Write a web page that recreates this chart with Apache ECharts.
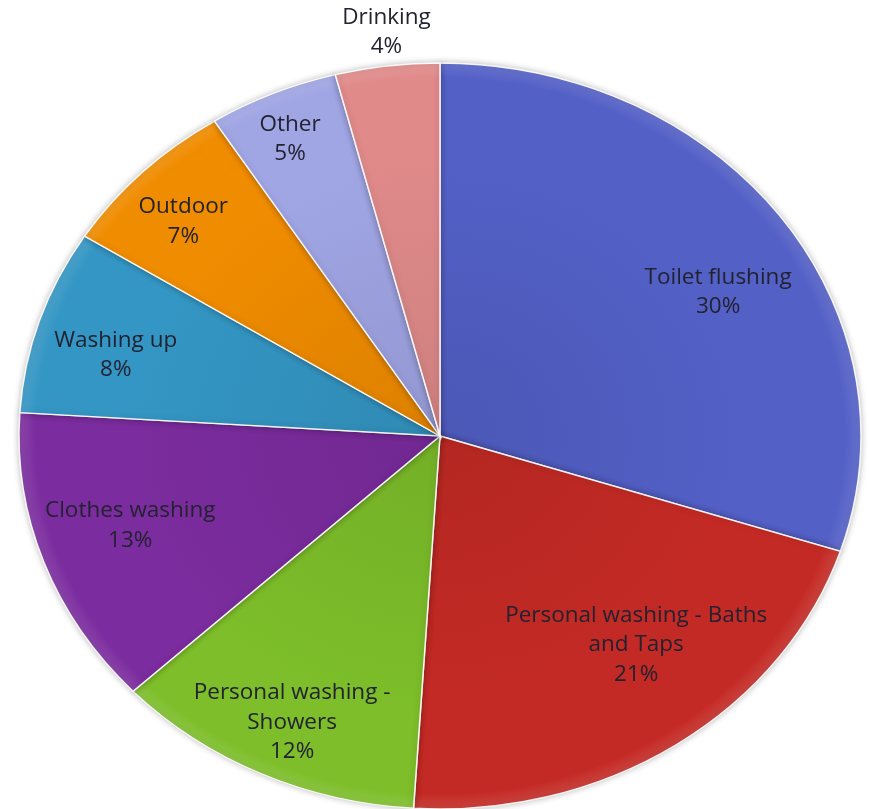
<!DOCTYPE html>
<html>
<head>
<meta charset="utf-8">
<script src="https://cdn.jsdelivr.net/npm/echarts@6/dist/echarts.min.js"></script>
<style>
  html, body { margin: 0; padding: 0; background: #ffffff; }
  #chart { width: 869px; height: 809px; }
</style>
</head>
<body>
<div id="chart"></div>
<script>
// ---- data ----
const categories = [
  'Toilet flushing',
  'Personal washing - Baths\nand Taps',
  'Personal washing -\nShowers',
  'Clothes washing',
  'Washing up',
  'Outdoor',
  'Other',
  'Drinking'
];
const values = [30, 21, 12, 13, 8, 7, 5, 4];

// ---- style / layout ----
const colors = ['#5360C6', '#C42A25', '#7DBE2A', '#7B2C9E', '#3496C4', '#F08C00', '#A0A5E4', '#E08A8A'];
// [radial fraction, angle shift in degrees] for each label
const labelPlacement = [[0.765, 5.7], [0.728, -5.6], [0.844, -0.6], [0.774, 1.7], [0.80, -2.3], [0.838, -1.7], [0.872, -0.7], [1.09, 0.5]];
const CX = 440, CY = 436, RX = 421, RY = 373;

function shade(hex, k) {
  const n = parseInt(hex.slice(1), 16);
  let r = (n >> 16) & 255, g = (n >> 8) & 255, b = n & 255;
  if (k < 0) { r *= (1 + k); g *= (1 + k); b *= (1 + k); }
  else { r += (255 - r) * k; g += (255 - g) * k; b += (255 - b) * k; }
  return 'rgb(' + Math.round(r) + ',' + Math.round(g) + ',' + Math.round(b) + ')';
}

const total = values.reduce((a, b) => a + b, 0);

function renderItem(params, api) {
  const i = params.dataIndex;
  const v = api.value(0);
  let before = 0;
  for (let j = 0; j < i; j++) before += values[j];
  const a0 = -Math.PI / 2 + before / total * Math.PI * 2;
  const a1 = a0 + v / total * Math.PI * 2;
  const mid = (a0 + a1) / 2 + labelPlacement[i][1] * Math.PI / 180;
  const f = labelPlacement[i][0];
  const lx = CX + RX * f * Math.cos(mid);
  const ly = CY + RY * f * Math.sin(mid);
  const base = colors[i];
  const fill = new echarts.graphic.RadialGradient(CX, CY, RX, [
    { offset: 0, color: shade(base, -0.08) },
    { offset: 0.75, color: base },
    { offset: 0.96, color: base },
    { offset: 1, color: shade(base, 0.12) }
  ], true);
  const pct = Math.round(v / total * 100) + '%';
  return {
    type: 'group',
    children: [
      {
        type: 'sector',
        shape: { cx: CX, cy: CY, r: RX, r0: 0, startAngle: a0, endAngle: a1, clockwise: true },
        originX: CX, originY: CY, scaleY: RY / RX,
        style: {
          fill: fill, stroke: 'rgba(255,255,255,0.9)', lineWidth: 1.5, strokeNoScale: true,
          shadowBlur: 6, shadowColor: 'rgba(0,0,0,0.25)'
        }
      },
      {
        type: 'text',
        x: lx, y: ly,
        style: {
          text: categories[i] + '\n' + pct,
          fill: '#222230',
          fontSize: 22.5,
          fontFamily: 'Open Sans',
          align: 'center',
          verticalAlign: 'middle',
          lineHeight: 29.5
        }
      }
    ]
  };
}

const chart = echarts.init(document.getElementById('chart'), null, { renderer: 'canvas' });
chart.setOption({
  backgroundColor: '#ffffff',
  animation: false,
  series: [{
    type: 'custom',
    coordinateSystem: 'none',
    renderItem: renderItem,
    data: values.map((v, i) => ({ name: categories[i], value: [v] }))
  }]
});
</script>
</body>
</html>
